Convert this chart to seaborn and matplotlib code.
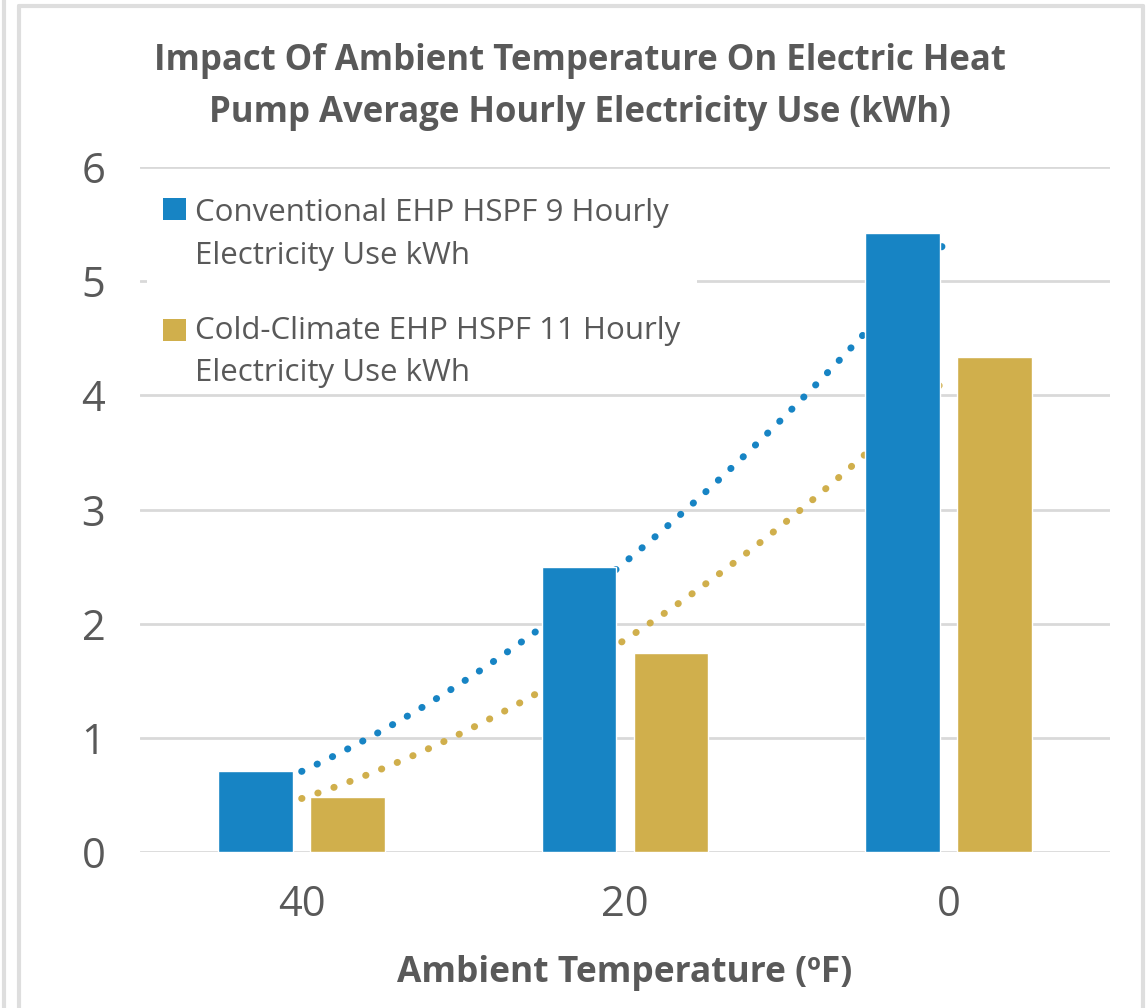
import numpy as np
import pandas as pd
import matplotlib
matplotlib.use("Agg")
import matplotlib.pyplot as plt
from matplotlib.lines import Line2D
from matplotlib.patches import Rectangle
import seaborn as sns

# Data
temperatures = ["40", "20", "0"]
conventional_kwh = [0.71, 2.50, 5.42]
cold_climate_kwh = [0.48, 1.74, 4.34]
series_names = [
    "Conventional EHP HSPF 9 Hourly\nElectricity Use kWh",
    "Cold-Climate EHP HSPF 11 Hourly\nElectricity Use kWh",
]
y_ticks = [0, 1, 2, 3, 4, 5, 6]

title_text = "Impact Of Ambient Temperature On Electric Heat\nPump Average Hourly Electricity Use (kWh)"
xlabel_text = "Ambient Temperature (ºF)"

BLUE = "#1784c4"
GOLD = "#d0af4c"
TEXT = "#595959"
GRID = "#d9d9d9"

sns.set_theme(style="white")
plt.rcParams["font.family"] = ["Open Sans", "DejaVu Sans"]

df = pd.DataFrame({
    "temp": temperatures * 2,
    "kwh": conventional_kwh + cold_climate_kwh,
    "series": [series_names[0]] * 3 + [series_names[1]] * 3,
})

W, H = 1146, 1008
fig = plt.figure(figsize=(W / 100, H / 100), dpi=100)
ax_left, ax_right, ax_bottom, ax_top = 140, 1110, 852, 167
ax = fig.add_axes([ax_left / W, 1 - ax_bottom / H,
                   (ax_right - ax_left) / W, (ax_bottom - ax_top) / H])

sns.barplot(
    data=df, x="temp", y="kwh", hue="series", order=temperatures,
    hue_order=series_names, palette=[BLUE, GOLD], width=0.57, gap=0.19,
    saturation=1, errorbar=None, ax=ax, legend=False, zorder=2,
)

# Power-law trendlines (fit in log-log space over category index 1..3)
idx = np.arange(1, len(temperatures) + 1)
xs = np.linspace(1, len(temperatures), 300)
for vals, col in [(conventional_kwh, BLUE), (cold_climate_kwh, GOLD)]:
    b, a = np.polyfit(np.log(idx), np.log(vals), 1)
    ys = np.exp(a) * xs ** b
    ax.plot(xs - 1, ys, color=col, lw=5, linestyle=(0, (0.05, 2.4)),
            dash_capstyle="round", zorder=1.5)

ax.set_xlim(-0.5, 2.5)
ax.set_ylim(0, 6)
ax.set_yticks(y_ticks)
ax.yaxis.grid(True, color=GRID, lw=2)
ax.set_axisbelow(True)
for s in ax.spines.values():
    s.set_visible(False)
ax.tick_params(axis="both", length=0, labelsize=30, labelcolor=TEXT)
ax.tick_params(axis="y", pad=25)
ax.tick_params(axis="x", pad=23)
ax.set_ylabel("")
ax.set_xlabel(xlabel_text, fontsize=25.5, fontweight="bold", color=TEXT, labelpad=21)


# Legend drawn in pixel positions mapped to axes fractions
def fx(px):
    return (px - ax_left) / (ax_right - ax_left)


def fy(py):
    return (ax_bottom - py) / (ax_bottom - ax_top)


ax.add_patch(Rectangle((fx(147), fy(394)), fx(697) - fx(147), fy(185) - fy(394),
                       transform=ax.transAxes, facecolor="white", edgecolor="none",
                       zorder=1.2))
for name, col, sq_top, txt_mid in [(series_names[0], BLUE, 198, 234.5),
                                    (series_names[1], GOLD, 319, 352)]:
    ax.add_patch(Rectangle((fx(163), fy(sq_top + 22)), fx(186) - fx(163),
                           fy(sq_top) - fy(sq_top + 22), transform=ax.transAxes,
                           facecolor=col, edgecolor="none", zorder=3))
    ax.text(fx(195), fy(txt_mid), name, transform=ax.transAxes, ha="left",
            va="center", fontsize=22.5, color=TEXT, linespacing=1.53, zorder=3)

fig.text(0.506, 1 - 87 / H, title_text, ha="center", va="center", fontsize=25,
         fontweight="bold", color=TEXT, linespacing=1.6)

# Frame lines around the chart area
frame = "#dedede"
fig.add_artist(Line2D([4 / W, 4 / W], [0, 1], color=frame, lw=3))
fig.add_artist(Line2D([19 / W, 19 / W], [0, 1 - 6 / H], color=frame, lw=3))
fig.add_artist(Line2D([19 / W, 1143 / W], [1 - 6 / H, 1 - 6 / H], color=frame, lw=3))
fig.add_artist(Line2D([1143 / W, 1143 / W], [0, 1 - 6 / H], color=frame, lw=3))

fig.savefig("out.png", dpi=100, facecolor="white")
